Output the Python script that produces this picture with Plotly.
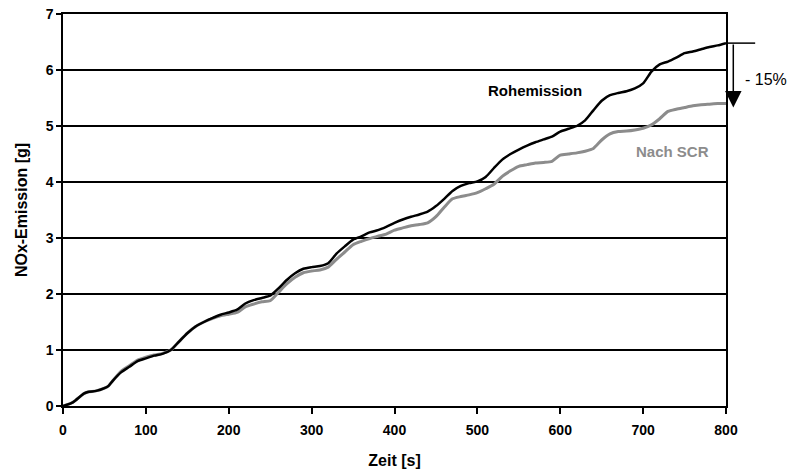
import plotly.graph_objects as go

zeit = [0, 10, 15, 25, 30, 40, 50, 55, 60, 70, 80, 90, 100, 110, 120, 130, 140, 150, 160, 170,
        180, 190, 200, 210, 220, 230, 240, 250, 260, 270, 280, 290, 300, 310, 320, 330, 340,
        350, 360, 370, 380, 390, 400, 410, 420, 430, 440, 450, 460, 470, 480, 490, 500, 510,
        520, 530, 540, 550, 560, 570, 580, 590, 600, 610, 620, 630, 640, 650, 660, 670, 680,
        690, 700, 710, 720, 730, 740, 750, 760, 770, 780, 790, 800]

rohemission = [0, 0.05, 0.1, 0.22, 0.25, 0.27, 0.32, 0.36, 0.45, 0.6, 0.7, 0.8, 0.85, 0.9, 0.93,
               1.0, 1.15, 1.3, 1.42, 1.5, 1.57, 1.63, 1.67, 1.72, 1.83, 1.89, 1.93, 1.97, 2.1,
               2.25, 2.37, 2.45, 2.48, 2.5, 2.55, 2.72, 2.85, 2.97, 3.03, 3.1, 3.14, 3.2, 3.27,
               3.33, 3.38, 3.42, 3.47, 3.57, 3.7, 3.84, 3.93, 3.98, 4.01, 4.09, 4.25, 4.4, 4.5,
               4.58, 4.65, 4.71, 4.76, 4.81, 4.9, 4.95, 5.0, 5.1, 5.28, 5.45, 5.55, 5.59, 5.62,
               5.67, 5.76, 5.97, 6.1, 6.15, 6.22, 6.3, 6.33, 6.37, 6.41, 6.44, 6.48]

nach_scr = [0, 0.05, 0.1, 0.22, 0.25, 0.27, 0.32, 0.36, 0.45, 0.62, 0.72, 0.82, 0.87, 0.91, 0.94,
            1.0, 1.15, 1.3, 1.42, 1.5, 1.56, 1.61, 1.64, 1.67, 1.77, 1.82, 1.86, 1.88, 2.03,
            2.18, 2.3, 2.38, 2.41, 2.43, 2.48, 2.62, 2.75, 2.88, 2.94, 2.99, 3.03, 3.07, 3.14,
            3.18, 3.22, 3.24, 3.27, 3.38, 3.55, 3.7, 3.74, 3.77, 3.81, 3.88, 3.96, 4.1, 4.2,
            4.28, 4.31, 4.34, 4.35, 4.37, 4.48, 4.5, 4.52, 4.55, 4.6, 4.75, 4.86, 4.9, 4.91,
            4.93, 4.96, 5.02, 5.13, 5.26, 5.3, 5.33, 5.36, 5.38, 5.39, 5.4, 5.4]

x_ticks = [0, 100, 200, 300, 400, 500, 600, 700, 800]
y_ticks = [0, 1, 2, 3, 4, 5, 6, 7]
x_max = 800
y_max = 7
reduction_label = "- 15%"

font = "Liberation Sans, Arial, sans-serif"
H, W = 474, 790
M = dict(l=63, r=64, t=14, b=68)
plot_h = H - M["t"] - M["b"]

fig = go.Figure()
fig.add_trace(go.Scatter(x=zeit, y=nach_scr, mode="lines", name="Nach SCR",
                         line=dict(color="#8c8c8c", width=3, shape="spline", smoothing=0.6)))
fig.add_trace(go.Scatter(x=zeit, y=rohemission, mode="lines", name="Rohemission",
                         line=dict(color="#000000", width=2.5, shape="spline", smoothing=0.6)))

fig.update_layout(
    width=W, height=H,
    margin=dict(M, autoexpand=False),
    plot_bgcolor="white", paper_bgcolor="white",
    showlegend=False,
    font=dict(family=font, size=14, color="black"),
    xaxis=dict(range=[0, x_max], tickvals=x_ticks, ticks="outside", ticklen=6, tickwidth=1.5,
               tickcolor="black", showgrid=False, showline=True, linecolor="black", linewidth=1.5,
               mirror=True, zeroline=False, ticklabelstandoff=4, automargin=False,
               tickfont=dict(family=font, size=14, color="black", weight="bold"),
               title=dict(text="<b>Zeit [s]</b>", font=dict(family=font, size=16), standoff=18)),
    yaxis=dict(range=[0, y_max], tickvals=y_ticks, ticks="outside", ticklen=5, tickwidth=1.5,
               tickcolor="black", showgrid=True, gridcolor="black", gridwidth=1.5,
               showline=True, linecolor="black", linewidth=1.5, zeroline=False, mirror=True,
               automargin=False,
               tickfont=dict(family=font, size=14, color="black", weight="bold"),
               title=dict(text="<b>NOx-Emission [g]</b>", font=dict(family=font, size=16), standoff=14)),
)

fig.add_annotation(x=569, y=5.64, xref="x", yref="y", text="<b>Rohemission</b>", showarrow=False,
                   font=dict(family=font, size=15, color="black"))
fig.add_annotation(x=736, y=4.54, xref="x", yref="y", text="<b>Nach SCR</b>", showarrow=False,
                   font=dict(family=font, size=15, color="#8c8c8c"))

# reduction marker (outside the plot area, in paper coordinates)
y_top = rohemission[-1] / y_max
y_bot = nach_scr[-1] / y_max
fig.add_shape(type="line", xref="paper", yref="paper", x0=1.0, x1=1.044, y0=y_top, y1=y_top,
              line=dict(color="black", width=1.5))
arrow_len = (y_top - y_bot) * plot_h + 4
fig.add_annotation(x=1.011, y=y_bot - 4 / plot_h, ax=0, ay=-arrow_len, xref="paper", yref="paper",
                   axref="pixel", ayref="pixel",
                   text="", showarrow=True, arrowhead=2, arrowsize=2.2, arrowwidth=1.5,
                   arrowcolor="black")
fig.add_annotation(x=1.025, y=(y_top + y_bot) / 2 + 0.012, xref="paper", yref="paper",
                   text=reduction_label, showarrow=False, xanchor="left",
                   font=dict(family=font, size=16, color="black"))

fig.write_html("out.html")
